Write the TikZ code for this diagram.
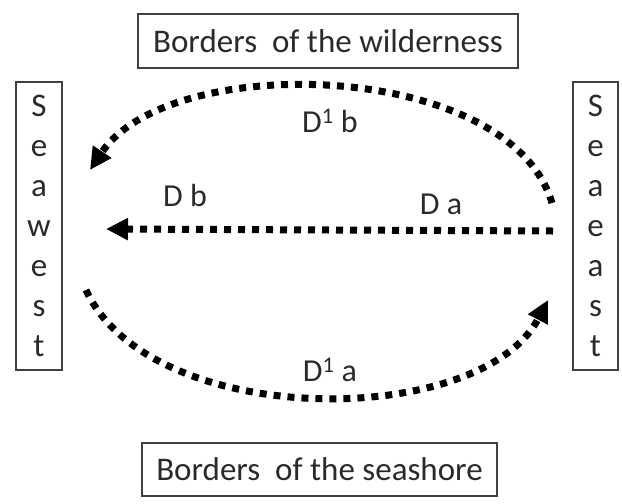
\documentclass[tikz,border=0pt]{standalone}
\usepackage{fontspec}
\setmainfont{Carlito}
\usetikzlibrary{arrows.meta}
\definecolor{txt}{HTML}{2A2A2A}
\tikzset{
  box/.style={draw=black!75, line width=1.3pt, inner sep=0pt, text=txt, font=\fontsize{33}{40}\selectfont},
  lbl/.style={text=txt, font=\fontsize{32}{36}\selectfont, inner sep=0pt},
  dotline/.style={line width=7pt, dash pattern=on 7pt off 7pt, black,
    -{Triangle[length=22pt,width=21pt]}}
}
\begin{document}
\begin{tikzpicture}[x=1pt,y=-1pt]
\useasboundingbox (0,0) rectangle (622,504);
\node[box, minimum width=380pt, minimum height=54pt] (top) at (328,41) {Borders\ \ of the wilderness};
\node[box, minimum width=355pt, minimum height=53pt] (bot) at (319.5,469.5) {Borders\ \ of the seashore};
\node[box, minimum width=46pt, minimum height=288pt, align=center] (west) at (39,226) {S\\e\\a\\w\\e\\s\\t};
\node[box, minimum width=45pt, minimum height=288pt, align=center] (east) at (595.5,226) {S\\e\\a\\e\\a\\s\\t};
\coordinate (ub) at (552,203);
\coordinate (ue) at (90,170);
\coordinate (mb) at (553,231);
\coordinate (me) at (106,229);
\coordinate (lb) at (86,290);
\coordinate (le) at (548,300);
\draw[dotline] (ub) .. controls (510,60) and (170,50) .. (ue);
\draw[dotline] (mb) -- (me);
\draw[dotline] (lb) .. controls (150,430) and (480,430) .. (le);
\node[lbl] (l1) at (330,121) {D\textsuperscript{1} b};
\node[lbl] (l2) at (185,195) {D b};
\node[lbl] (l3) at (441,204) {D a};
\node[lbl] (l4) at (330,370) {D\textsuperscript{1} a};
\end{tikzpicture}
\end{document}
